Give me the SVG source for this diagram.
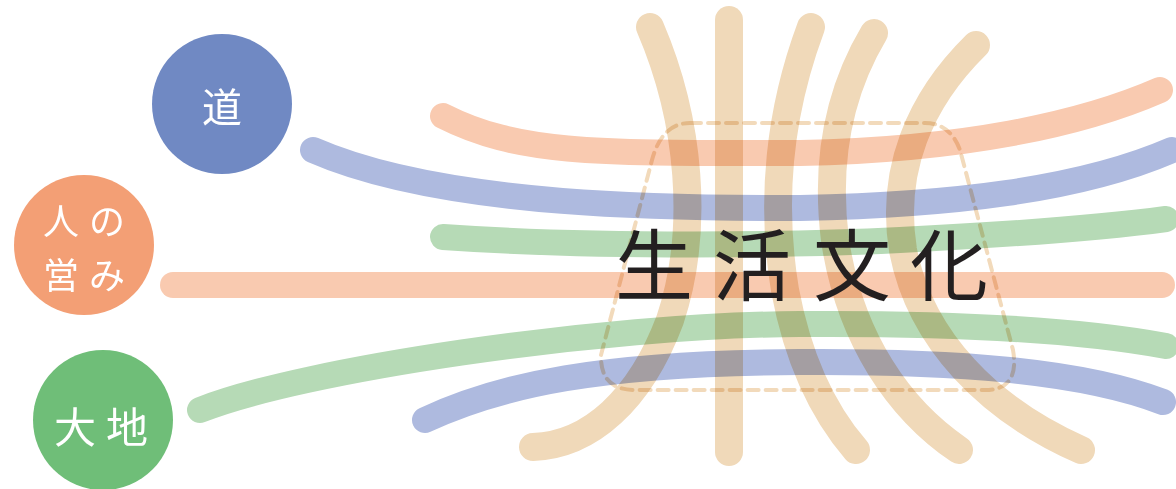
<svg xmlns="http://www.w3.org/2000/svg" width="1176" height="489" viewBox="0 0 1176 489">
<style>
  .ln{fill:none;stroke-linecap:round;mix-blend-mode:multiply}
  .h{stroke-width:26}
  .v{stroke-width:28;stroke:#F0D9B9}
  .blue{stroke:#AEBADF}
  .sal{stroke:#F9CAB0}
  .grn{stroke:#B6DAB6}
  .dash{fill:none;stroke:#F2DABB;stroke-width:4;stroke-dasharray:11 7;stroke-linecap:round;mix-blend-mode:multiply}
  .lbl{font-family:"Noto Sans CJK JP","Noto Sans CJK SC",sans-serif;fill:#fff;font-size:40px;text-anchor:middle;dominant-baseline:central}
  .main{font-family:"Noto Sans CJK JP","Noto Sans CJK SC",sans-serif;fill:#231F20;font-size:78px;text-anchor:middle;dominant-baseline:central}
</style>
<rect width="1176" height="489" fill="#fff"/>
<g id="strands">
  <path class="ln v" d="M650,27 C690,120 700,230 670,320 C640,400 590,445 533,447"/>
  <path class="ln v" d="M729,20 L729,452"/>
  <path class="ln v" d="M811,27 C780,110 770,200 785,290 C800,370 830,420 856,450"/>
  <path class="ln v" d="M874,33 C840,90 825,160 835,240 C850,340 900,410 959,450"/>
  <path class="ln v" d="M976,45 C920,100 890,170 903,250 C920,340 990,410 1081,450"/>
</g>
<g id="connectors">
  <path class="ln h sal" d="M443,116 C520,155 600,153 800,153 C960,150 1080,125 1160,90"/>
  <path class="ln h blue" d="M313,150 C450,210 700,208 800,208 C950,205 1080,190 1172,150"/>
  <path class="ln h grn" d="M443,237 C600,248 800,245 900,240 C1000,235 1100,228 1166,219"/>
  <path class="ln h sal" d="M173,285 L1162,285"/>
  <path class="ln h grn" d="M200,410 C300,370 600,325 800,324 C950,323 1080,330 1166,346"/>
  <path class="ln h blue" d="M425,420 C500,385 600,363 800,362 C950,361 1080,370 1163,402"/>
</g>
<g id="culture">
  <path class="dash" d="M690,123 L925,123 Q950,123 960,150 L1013,350 Q1020,390 985,390 L635,390 Q600,390 601,355 L652,160 Q662,123 690,123 Z"/>
  <text class="main" x="654 752 852 949" y="261">生活文化</text>
</g>
<g id="node-michi">
  <circle cx="222" cy="104" r="70" fill="#7089C3"/>
  <text class="lbl" x="222" y="105">道</text>
</g>
<g id="node-itonami">
  <circle cx="84" cy="245" r="70" fill="#F39F75"/>
  <text class="lbl" x="61 107" y="219" style="font-size:36px">人の</text>
  <text class="lbl" x="61 107" y="273" style="font-size:36px">営み</text>
</g>
<g id="node-daichi">
  <circle cx="103" cy="420" r="70" fill="#6FBE78"/>
  <text class="lbl" x="75 127" y="424" style="font-size:42px">大地</text>
</g>
</svg>
